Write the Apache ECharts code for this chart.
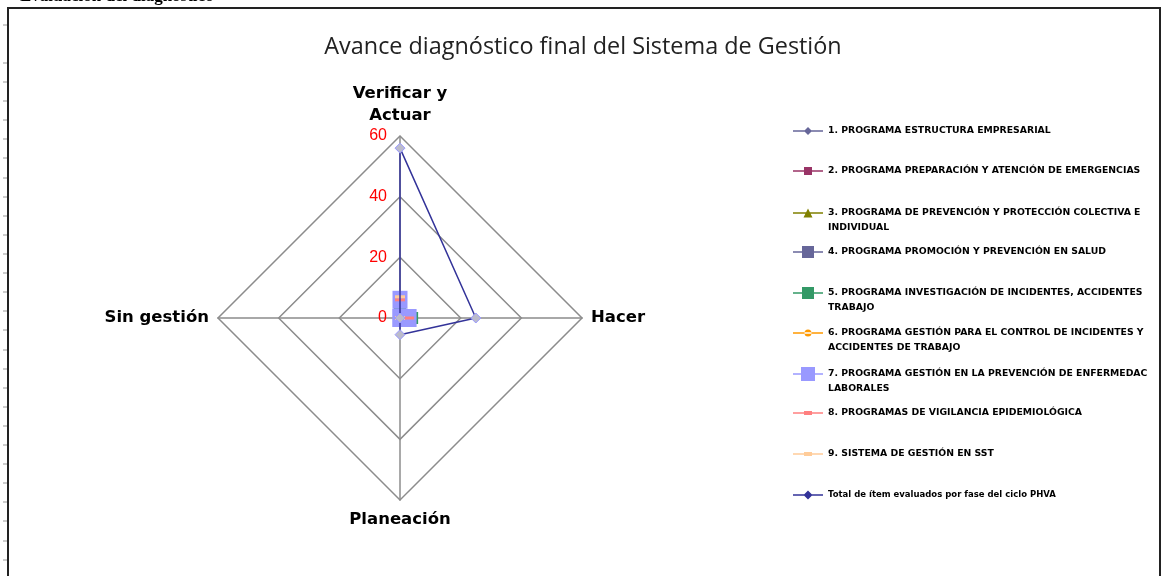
<!DOCTYPE html>
<html>
<head>
<meta charset="utf-8">
<script src="https://cdn.jsdelivr.net/npm/echarts@6/dist/echarts.min.js"></script>
<style>
  html, body { margin: 0; padding: 0; background: #fff; }
  #main { width: 1163px; height: 576px; }
</style>
</head>
<body>
<div id="main"></div>
<script>
var myChart = echarts.init(document.getElementById("main"));

// indicator order (ECharts goes counter-clockwise from the top)
var axes = ["Verificar y\nActuar", "Sin gestión", "Planeación", "Hacer"];
var axisMax = 60;

var seriesNames = [
  "1. PROGRAMA ESTRUCTURA EMPRESARIAL",
  "2. PROGRAMA PREPARACIÓN Y ATENCIÓN DE EMERGENCIAS",
  "3. PROGRAMA DE PREVENCIÓN Y PROTECCIÓN COLECTIVA E INDIVIDUAL",
  "4. PROGRAMA PROMOCIÓN Y PREVENCIÓN EN SALUD",
  "5. PROGRAMA INVESTIGACIÓN DE INCIDENTES, ACCIDENTES TRABAJO",
  "6. PROGRAMA GESTIÓN PARA EL CONTROL DE INCIDENTES Y ACCIDENTES DE TRABAJO",
  "7. PROGRAMA GESTIÓN EN LA PREVENCIÓN DE ENFERMEDADES LABORALES",
  "8. PROGRAMAS DE VIGILANCIA EPIDEMIOLÓGICA",
  "9. SISTEMA DE GESTIÓN EN SST",
  "Total de ítem evaluados por fase del ciclo PHVA"
];

// values per series, in the order of axes
var s1 = [0, 0, 0, 0];
var s2 = [2, 0, 0, 0];
var s3 = [1, 0, 0, 0];
var s4 = [0, 0, 0, 0];
var s5 = [4, 0, 0, 4];
var s6 = [0, 0, 2, 0];
var s7 = [6, 0, 0, 3];
var s8 = [6, 0, 0, 3];
var s9 = [7, 0, 0, 0];
var total = [56, 0, 5.5, 25];

var seriesValues = [s1, s2, s3, s4, s5, s6, s7, s8, s9, total];
var seriesColors = ["#666699", "#993366", "#808000", "#666699", "#339966",
  "#FF9900", "#9999FF", "#FF8080", "#FFCC99", "#333399"];
var seriesSymbols = ["diamond", "rect", "triangle", "rect", "rect",
  "circle", "rect", "rect", "rect", "diamond"];
var symbolSizes = [7, 7, 8, 12, 12, 6, [15, 18], [10, 3], [10, 3], 10];

// how the legend text wraps
var legendLines = [
  ["1. PROGRAMA ESTRUCTURA EMPRESARIAL"],
  ["2. PROGRAMA PREPARACIÓN Y ATENCIÓN DE EMERGENCIAS"],
  ["3. PROGRAMA DE PREVENCIÓN Y PROTECCIÓN COLECTIVA E", "INDIVIDUAL"],
  ["4. PROGRAMA PROMOCIÓN Y PREVENCIÓN EN SALUD"],
  ["5. PROGRAMA INVESTIGACIÓN DE INCIDENTES, ACCIDENTES", "TRABAJO"],
  ["6. PROGRAMA GESTIÓN PARA EL CONTROL DE INCIDENTES Y", "ACCIDENTES DE TRABAJO"],
  ["7. PROGRAMA GESTIÓN EN LA PREVENCIÓN DE ENFERMEDAC", "LABORALES"],
  ["8. PROGRAMAS DE VIGILANCIA EPIDEMIOLÓGICA"],
  ["9. SISTEMA DE GESTIÓN EN SST"],
  ["Total de ítem evaluados por fase del ciclo PHVA"]
];
var legendTops = [131, 171, 213, 252, 293, 333, 374, 413, 454, 495];
var legendIconH = [8, 8, 9, 12, 12, 7, 14, 4, 4, 9];

function legendIcon(symbol, h) {
  var m = h / 2, t = 0.8;
  var line = "M0," + (m - t) + "L30," + (m - t) + "L30," + (m + t) + "L0," + (m + t) + "Z";
  var mk;
  if (symbol === "diamond") {
    mk = "M15,0L" + (15 + m) + "," + m + "L15," + h + "L" + (15 - m) + "," + m + "Z";
  } else if (symbol === "triangle") {
    mk = "M15,0L" + (15 + m) + "," + h + "L" + (15 - m) + "," + h + "Z";
  } else if (symbol === "circle") {
    mk = "M" + (15 - m) + "," + m + "A" + m + "," + m + ",0,1,0," + (15 + m) + "," + m +
      "A" + m + "," + m + ",0,1,0," + (15 - m) + "," + m + "Z";
  } else if (h <= 4) {
    mk = "M11,0L19,0L19," + h + "L11," + h + "Z";
  } else {
    mk = "M" + (15 - m) + ",0L" + (15 + m) + ",0L" + (15 + m) + "," + h + "L" + (15 - m) + "," + h + "Z";
  }
  return "path://" + line + mk;
}

var indicators = axes.map(function (name, i) {
  return { name: name, max: axisMax, min: 0, axisLabel: { show: i === 0 } };
});

var series = seriesNames.map(function (name, i) {
  var isTotal = i === seriesNames.length - 1;
  return {
    name: name,
    type: "radar",
    symbol: seriesSymbols[i],
    symbolSize: symbolSizes[i],
    z: isTotal ? 3 : 2,
    lineStyle: { color: seriesColors[i], width: 1.5 },
    itemStyle: isTotal
      ? { color: "#BBBBCC", borderColor: "#9999FF", borderWidth: 1 }
      : { color: seriesColors[i] },
    data: [{ value: seriesValues[i], name: name }]
  };
});

var legendLineH = 15;
var legends = seriesNames.map(function (name, i) {
  var h = legendIconH[i];
  var lines = legendLines[i];
  var nLines = lines.length > 1 ? 3 : 1;
  var blockH = Math.max(h, nLines * legendLineH);
  return {
    orient: "vertical",
    left: 793,
    top: legendTops[i] - blockH / 2,
    padding: 0,
    itemWidth: 30,
    itemHeight: h,
    itemGap: 0,
    data: [{
      name: name,
      icon: legendIcon(seriesSymbols[i], h),
      itemStyle: { color: seriesColors[i], borderWidth: 0 }
    }],
    formatter: function () {
      return lines.length > 1 ? "\u00a0\n" + lines[0] + "\n" + lines[1] : lines[0];
    },
    textStyle: {
      fontFamily: "DejaVu Sans",
      fontWeight: "bold",
      fontSize: i === 9 ? 8.5 : 9.3,
      color: "#000",
      lineHeight: legendLineH
    }
  };
});

var ticks = [25];
for (var y = 63; y < 576; y += 19.1) ticks.push(Math.round(y));
var tickMarks = ticks.map(function (ty) {
  return {
    type: "line",
    shape: { x1: 3, y1: ty, x2: 7, y2: ty },
    style: { stroke: "#999", lineWidth: 1 }
  };
});

myChart.setOption({
  animation: false,
  title: {
    text: "Avance diagnóstico final del Sistema de Gestión",
    left: 578,
    textAlign: "center",
    top: 31,
    textStyle: { fontFamily: "Open Sans", fontWeight: "normal", fontSize: 23.4, color: "#222" }
  },
  legend: legends,
  radar: {
    center: [400, 318],
    radius: 182,
    shape: "polygon",
    splitNumber: 3,
    indicator: indicators,
    axisName: {
      color: "#000",
      fontFamily: "DejaVu Sans",
      fontWeight: "bold",
      fontSize: 16.5,
      lineHeight: 22
    },
    nameGap: 9,
    axisLine: { lineStyle: { color: "#8c8c8c", width: 1.5 } },
    splitLine: { lineStyle: { color: "#8c8c8c", width: 1.5 } },
    splitArea: { show: false },
    axisLabel: { show: true, color: "#ff0000", fontSize: 16, fontFamily: "Liberation Sans", margin: 13 }
  },
  graphic: [
    {
      type: "text",
      left: 20,
      top: -11.5,
      style: { text: "Evaluación del diagnóstico", font: "bold 17px 'Liberation Serif'", fill: "#000" }
    },
    {
      type: "rect",
      shape: { x: 8, y: 8, width: 1152, height: 580 },
      style: { fill: "none", stroke: "#222", lineWidth: 2 }
    }
  ].concat(tickMarks),
  series: series
});
</script>
</body>
</html>
